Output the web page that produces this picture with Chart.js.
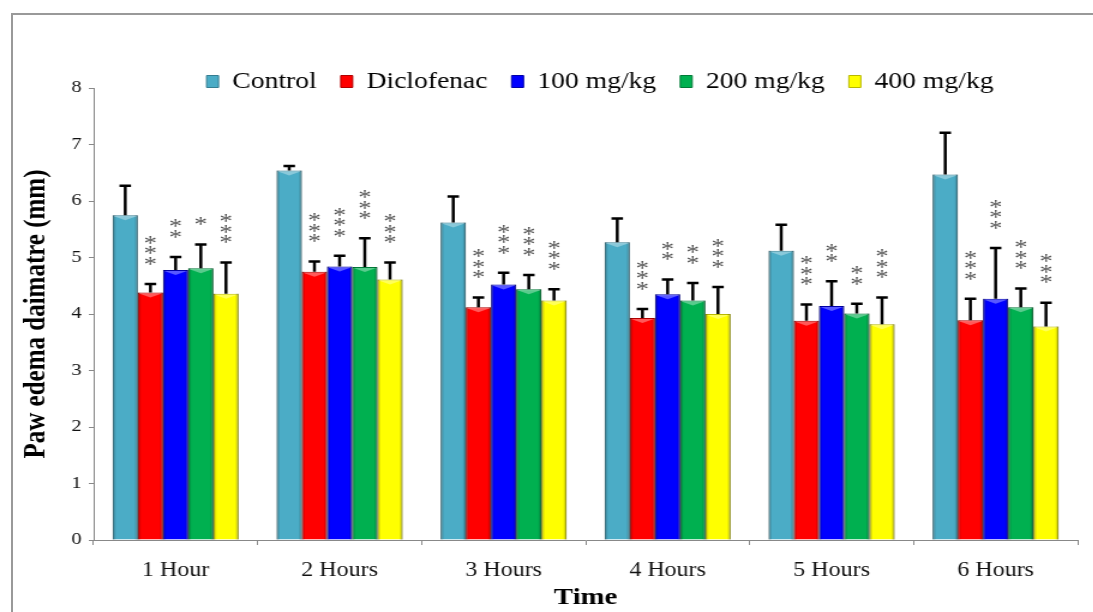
<!DOCTYPE html>
<html>
<head>
<meta charset="utf-8">
<script src="https://cdn.jsdelivr.net/npm/chart.js@4"></script>
<style>
  html, body { margin: 0; padding: 0; background: #fff; overflow: hidden; }
  #frame { position: absolute; left: 11px; top: 13px; width: 1200px; height: 700px;
           border-left: 2px solid #999; border-top: 2px solid #999; }
  #wrap { position: absolute; left: 0; top: 0; transform: scaleX(1.2); transform-origin: 0 0; }
</style>
</head>
<body>
<div id="frame"></div>
<div id="wrap"><canvas id="barChart" width="911" height="612"></canvas></div>
<script>
// values
var categories = ['1 Hour', '2 Hours', '3 Hours', '4 Hours', '5 Hours', '6 Hours'];
var yTicks = [0, 1, 2, 3, 4, 5, 6, 7, 8];

var control       = [5.75, 6.54, 5.62, 5.27, 5.12, 6.47];
var controlErr    = [0.52, 0.08, 0.46, 0.42, 0.46, 0.74];
var diclofenac    = [4.38, 4.75, 4.12, 3.93, 3.88, 3.89];
var diclofenacErr = [0.15, 0.18, 0.17, 0.16, 0.29, 0.38];
var dose100       = [4.78, 4.84, 4.52, 4.35, 4.14, 4.27];
var dose100Err    = [0.23, 0.19, 0.21, 0.26, 0.44, 0.90];
var dose200       = [4.81, 4.83, 4.44, 4.24, 4.01, 4.12];
var dose200Err    = [0.42, 0.51, 0.25, 0.31, 0.17, 0.33];
var dose400       = [4.36, 4.61, 4.24, 4.00, 3.82, 3.78];
var dose400Err    = [0.55, 0.30, 0.20, 0.48, 0.47, 0.42];

var diclofenacSig = ['***', '***', '***', '***', '***', '***'];
var dose100Sig    = ['**', '***', '***', '**', '**', '***'];
var dose200Sig    = ['*', '***', '***', '**', '**', '***'];
var dose400Sig    = ['***', '***', '***', '***', '***', '***'];

var serif = '"Liberation Serif", "Times New Roman", serif';

// squeeze the legend so it sits just above the 8 line,
// then give its clip box room again for the descenders
var legendFit = {
  id: 'legendFit',
  beforeInit: function (chart) {
    var fit = chart.legend.fit;
    chart.legend.fit = function () {
      fit.call(this);
      this.height = 38;
    };
  },
  afterLayout: function (chart) {
    chart.legend.height += 14;
    chart.legend.bottom += 14;
    chart.legend.left += 12;
    chart.legend.right += 12;
  }
};

// bevel shading, error bars and significance stars
var barExtras = {
  id: 'barExtras',
  afterDatasetsDraw: function (chart) {
    var ctx = chart.ctx;
    var yScale = chart.scales.y;
    chart.data.datasets.forEach(function (ds, i) {
      var meta = chart.getDatasetMeta(i);
      meta.data.forEach(function (bar, j) {
        var p = bar.getProps(['x', 'y', 'base', 'width'], true);
        var left = p.x - p.width / 2, right = p.x + p.width / 2;

        ctx.save();
        var g = ctx.createLinearGradient(left, 0, right, 0);
        g.addColorStop(0, 'rgba(0,0,0,0.30)');
        g.addColorStop(0.14, 'rgba(0,0,0,0)');
        g.addColorStop(0.86, 'rgba(0,0,0,0)');
        g.addColorStop(1, 'rgba(0,0,0,0.30)');
        ctx.fillStyle = g;
        ctx.fillRect(left, p.y, p.width, p.base - p.y);
        ctx.fillStyle = 'rgba(255,255,255,0.35)';
        ctx.beginPath();
        ctx.moveTo(left + 1, p.y + 1);
        ctx.lineTo(right - 1, p.y + 1);
        ctx.lineTo(p.x, p.y + 5);
        ctx.closePath();
        ctx.fill();

        var tip = yScale.getPixelForValue(ds.data[j] + ds.errors[j]);
        ctx.strokeStyle = '#000';
        ctx.lineWidth = 2.5;
        ctx.beginPath();
        ctx.moveTo(p.x, p.y);
        ctx.lineTo(p.x, tip);
        ctx.moveTo(p.x - 4.8, tip);
        ctx.lineTo(p.x + 4.8, tip);
        ctx.stroke();

        if (ds.stars) {
          ctx.fillStyle = '#555';
          ctx.font = '22px ' + serif;
          ctx.textAlign = 'center';
          ctx.textBaseline = 'middle';
          for (var k = 0; k < ds.stars[j].length; k++) {
            ctx.fillText('*', p.x, tip - 19 - k * 10.5);
          }
        }
        ctx.restore();
      });
    });
  }
};

function BuildBarChart() {
  var ctx = document.getElementById('barChart');
  var barChart = new Chart(ctx, {
    type: 'bar',
    data: {
      labels: categories,
      datasets: [
        { label: 'Control', data: control, errors: controlErr,
          backgroundColor: '#4BACC6', borderColor: '#357D91' },
        { label: 'Diclofenac', data: diclofenac, errors: diclofenacErr, stars: diclofenacSig,
          backgroundColor: '#FF0000', borderColor: '#B00000' },
        { label: '100 mg/kg', data: dose100, errors: dose100Err, stars: dose100Sig,
          backgroundColor: '#0000FF', borderColor: '#0000A8' },
        { label: '200 mg/kg', data: dose200, errors: dose200Err, stars: dose200Sig,
          backgroundColor: '#00B050', borderColor: '#007A38' },
        { label: '400 mg/kg', data: dose400, errors: dose400Err, stars: dose400Sig,
          backgroundColor: '#FFFF00', borderColor: '#B8B800' }
      ]
    },
    options: {
      responsive: false,
      animation: false,
      datasets: {
        bar: { categoryPercentage: 0.768, barPercentage: 1.0, borderWidth: 1 }
      },
      layout: { padding: { left: 0, right: 13, top: 50, bottom: 0 } },
      plugins: {
        tooltip: { enabled: false },
        legend: {
          fullSize: false,
          labels: {
            boxWidth: 10,
            boxHeight: 12,
            padding: 20,
            color: '#000',
            font: { family: serif, size: 23 }
          }
        }
      },
      scales: {
        x: {
          afterFit: function (scale) { scale.height = 72; },
          border: { color: '#888', width: 1 },
          grid: { drawOnChartArea: false, tickLength: 5, color: '#888' },
          ticks: { color: '#111', padding: 14, font: { family: serif, size: 20 } },
          title: {
            display: true, text: 'Time', color: '#000',
            padding: { top: 0, bottom: 0 },
            font: { family: serif, size: 24, weight: 'bold' }
          }
        },
        y: {
          min: 0,
          max: 8,
          afterFit: function (scale) { scale.width = 78; },
          afterBuildTicks: function (scale) {
            scale.ticks = yTicks.map(function (v) { return { value: v }; });
          },
          border: { color: '#888', width: 1 },
          grid: { drawOnChartArea: false, tickLength: 4, color: '#888' },
          ticks: { color: '#111', padding: 6, font: { family: serif, size: 17 } },
          title: {
            display: true, text: 'Paw edema daimatre (mm)', color: '#000',
            padding: { top: 16, bottom: 0 },
            font: { family: serif, size: 25, weight: 'bold' }
          }
        }
      }
    },
    plugins: [legendFit, barExtras]
  });
}

BuildBarChart();
</script>
</body>
</html>
